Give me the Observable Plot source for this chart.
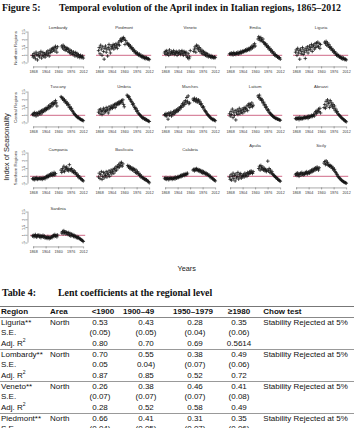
<!DOCTYPE html>
<html><head><meta charset="utf-8">
<script src="https://cdn.jsdelivr.net/npm/d3@7"></script>
<script src="https://cdn.jsdelivr.net/npm/@observablehq/plot@0.6"></script>
<style>
body{margin:0;background:#fff;}
#root{position:relative;width:354px;height:428px;overflow:hidden;font-family:"Liberation Sans",Arial,sans-serif;color:#111;}
.abs{position:absolute;white-space:nowrap;}
.ttl{font-family:"Liberation Serif","Times New Roman",serif;font-weight:bold;font-size:9.9px;line-height:10px;}
.cell{position:absolute;font-size:8px;line-height:10px;white-space:nowrap;}
.hd{font-weight:bold;}
.rule{position:absolute;left:0;width:354px;}
svg{overflow:visible;}
</style></head><body><div id="root"></div>
<script>
// ---------- data (values x100, one per 2 years from 1865; null = no data) ----------
const years = d3.range(1865, 2012, 2);
const xTicks = [1868, 1904, 1940, 1976, 2012];
const yTicks = [0.5, 1, 1.5, 2, 2.5];
const yTickLabels = [".5", "1", "1.5", "2", "2.5"];

const lombardy = [100,88,112,95,78,120,105,70,98,115, 90,108,125,82,100,118,95,110,88,105, 120,100,128,112,95,132,118,140,125,145, 135,150,128,158,142,120,155,null,null,null, null,null,160,148,165,140,155,132,150,138, 145,125,140,118,132,110,128,115,105,122, 108,95,118,100,112,90,105,95,85,100, 92,85,95,82];
const piedmont = [130,150,110,165,140,100,155,125,75,145, 160,120,140,95,150,170,135,115,160,145, 155,170,140,165,150,175,160,145,170,185, 165,195,205,190,210,200,215,205,170,195, null,180,175,165,170,155,160,145,150,135, 140,125,130,115,120,110,115,105,100,108, 95,100,90,95,85,92,80,88,78,85, 80,75,78,72];
const veneto = [115,125,105,130,110,120,100,135,115,108, 125,110,118,130,105,120,112,125,100,118, 110,128,115,105,122,130,112,100,125,118, 108,120,95,85,110,78,90,130,null,null, null,null,125,140,155,120,165,145,160,135, 150,125,140,115,130,110,125,105,118,100, 112,95,108,90,100,95,88,98,85,92, 88,82,90,85];
const emilia = [108,112,105,115,110,102,118,108,112,105, 115,110,120,108,118,112,125,115,120,128, 122,130,125,135,128,140,132,138,145,135, 150,142,158,148,165,155,175,160,null,null, null,205,220,210,195,215,200,190,205,185, 180,170,175,160,165,150,155,140,145,130, 135,120,125,110,115,100,105,95,98,88, 90,82,85,75];
const liguria = [120,135,100,145,115,130,75,140,110,125, 150,105,135,120,80,145,130,155,115,140, 160,135,150,170,125,155,165,140,175,150, 180,160,185,155,175,145,170,null,null,null, null,null,185,175,190,165,180,160,170,150, 155,140,145,130,135,120,125,110,115,100, 105,95,100,88,92,85,80,88,75,82, 78,72,75,70];
const tuscany = [105,112,100,118,108,95,115,110,102,120, 112,125,108,130,118,135,125,140,130,145, 138,150,142,160,148,165,155,175,160,180, 170,185,175,195,180,160,null,null,null,null, null,220,215,205,210,195,200,185,190,175, 180,165,170,150,155,140,145,130,125,115, 110,105,100,95,90,85,88,80,78,75, 72,70,68,65];
const umbria = [120,135,110,140,125,105,130,145,115,135, 125,150,130,140,115,155,135,145,160,150, 145,165,155,170,150,175,165,180,170,185, 175,190,180,195,185,200,170,155,null,null, null,230,225,215,220,205,200,190,185,170, 175,160,150,140,145,125,130,115,110,105, 100,95,90,85,80,85,75,78,70,72, 68,65,62,60];
const marches = [105,98,112,95,108,75,115,100,110,120, 95,115,105,125,110,130,118,135,125,140, 130,148,140,155,150,165,175,160,185,170, 195,180,215,190,225,175,180,null,null,null, null,205,195,210,200,190,205,185,195,200, 180,190,170,175,160,150,155,140,130,125, 120,110,105,100,95,90,85,80,78,72, 75,70,68,65];
const latium = [110,95,125,105,140,85,120,100,130,70, 115,135,105,125,145,110,130,120,140,115, 135,150,125,145,140,160,130,165,175,150, 170,160,180,155,165,null,null,null,null,null, null,225,215,230,205,210,195,200,180,185, 165,170,150,155,140,130,135,120,115,110, 105,100,95,92,88,85,80,82,78,75, 75,72,70,68];
const abruzzi = [80,75,85,78,82,72,88,80,76,84, 78,86,80,90,82,88,85,92,80,95, 88,95,90,100,92,98,105,95,115,125, 110,130,120,140,125,145,115,null,null,null, null,150,170,145,190,160,200,175,185,150, 195,165,180,155,170,145,160,130,140,120, 125,110,105,100,95,90,85,80,78,72, 70,65,62,58];
const campania = [85,80,90,78,88,82,92,80,86,84, 88,82,90,85,80,92,86,90,84,95, 100,92,105,98,110,102,115,108,120,105, 112,125,108,118,null,null,null,null,null,null, null,140,125,150,135,165,130,155,145,160, 140,150,135,175,145,140,150,130,140,125, 135,120,125,110,115,100,105,90,95,85, 85,78,75,70];
const basilicata = [95,120,85,110,130,80,100,125,90,115, 105,130,95,120,110,135,100,125,140,115, 130,145,120,150,135,160,140,165,155,175, 160,185,170,190,165,180,null,null,null,null, null,null,170,160,165,150,160,145,155,140, 150,135,145,125,140,120,130,115,120,105, 110,95,100,90,92,85,80,85,75,78, 72,68,65,58];
const calabria = [88,82,92,80,86,90,78,85,92,84, 88,80,90,85,92,82,95,88,90,98, 92,100,95,105,98,110,102,108,115,105, 112,118,110,120,null,null,null,null,null,null, null,140,145,135,148,140,150,138,145,135, 142,130,138,125,135,120,130,118,125,115, 120,110,115,105,108,98,100,90,92,85, 82,78,75,70];
const apulia = [95,80,110,75,100,120,85,105,70,115, 90,100,125,82,110,95,118,88,105,98, 110,95,120,105,115,100,125,110,118,130, 120,135,125,118,130,null,null,null,null,null, null,null,150,165,140,170,155,145,160,140, 150,135,145,130,140,198,135,150,125,140, 120,130,115,110,105,100,95,92,88,82, 80,75,72,68];
const sicily = [110,118,105,122,112,100,115,120,108,125, 115,108,120,112,125,118,130,115,122,128, 120,135,125,140,130,145,135,150,140,155, 145,160,150,140,155,null,null,null,null,null, null,185,195,175,200,180,190,170,175,165, 170,160,165,150,155,140,145,130,125,115, 110,100,95,90,85,80,75,72,68,65, 62,60,58,55];
const sardinia = [95,100,90,98,105,92,88,100,95,102, 90,98,85,95,92,100,88,95,82,90, 85,80,92,85,78,88,82,90,85,95, 100,92,105,95,100,90,102,null,null,null, null,null,115,125,110,130,118,122,108,120, 115,105,118,100,112,95,108,98,105,92, 100,90,95,85,92,82,88,80,78,75, 72,68,65,60];

const regionNames = ["Lombardy","Piedmont","Veneto","Emilia","Liguria","Tuscany","Umbria","Marches","Latium","Abruzzi","Campania","Basilicata","Calabria","Apulia","Sicily","Sardinia"];
const regionValues = [lombardy,piedmont,veneto,emilia,liguria,tuscany,umbria,marches,latium,abruzzi,campania,basilicata,calabria,apulia,sicily,sardinia];
const rowLabels = ["Northern Regions","Central Regions","Southern Regions"];

const tableHead = ["Region","Area","<1900","1900–49","1950–1979","≥1980","Chow test"];
const tableRows = [
  ["Liguria**","North","0.53","0.43","0.28","0.35","Stability Rejected at 5%"],
  ["S.E.","","(0.05)","(0.05)","(0.04)","(0.06)",""],
  ["Adj. R2","","0.80","0.70","0.69","0.5614",""],
  ["Lombardy**","North","0.70","0.55","0.38","0.49","Stability Rejected at 5%"],
  ["S.E.","","0.05","0.04)","(0.07)","(0.06)",""],
  ["Adj. R2","","0.87","0.85","0.52","0.72",""],
  ["Veneto**","North","0.26","0.38","0.46","0.41","Stability Rejected at 5%"],
  ["S.E.","","(0.07)","(0.07)","(0.07)","(0.08)",""],
  ["Adj. R2","","0.28","0.52","0.58","0.49",""],
  ["Piedmont**","North","0.66","0.41","0.31","0.35","Stability Rejected at 5%"],
  ["S.E.","","(0.04)","(0.05)","(0.07)","(0.06)",""]
];

// ---------- layout ----------
const root = document.getElementById("root");
function addDiv(cls, html, style) {
  const d = document.createElement("div");
  d.className = cls; d.innerHTML = html;
  Object.assign(d.style, style);
  root.appendChild(d); return d;
}
addDiv("abs ttl", "Figure 5:", {left:"2px", top:"3px"});
addDiv("abs ttl", "Temporal evolution of the April index in Italian regions, 1865–2012", {left:"59px", top:"3px"});

const colLeft = c => 20.2 + 65.7 * c;
const rowTop = [29.5, 90.3, 151, 210];
const titleDy = [-4.5, -5.6, -3.4, -3.3];
const W = 66, H = 50, mT = 3, mL = 10, mR = 0.8;

regionValues.forEach((vals, k) => {
  const col = k < 15 ? k % 5 : 0;
  const row = k < 15 ? Math.floor(k / 5) : 3;
  const name = regionNames[k];
  const data = vals.map((v, i) => ({year: years[i], v: v == null ? null : v / 100})).filter(d => d.v != null);
  const tdy = (name === "Apulia" || name === "Sicily") ? -7.7 : titleDy[row];
  const marks = [
    Plot.ruleY([1], {stroke: "#cf6a87", strokeWidth: 1}),
    Plot.dot(data, {x: "year", y: "v", symbol: "plus", r: 1.25, stroke: "#111", strokeWidth: 0.75}),
    Plot.ruleY([0.25], {x1: xTicks[0], x2: xTicks[xTicks.length - 1], stroke: "#555", strokeWidth: 0.5}),
    Plot.axisX({ticks: xTicks, tickFormat: d => String(d), tickSize: 2, tickPadding: 1, fontSize: 3.7, stroke: "#555", strokeWidth: 0.5, fill: "#333", label: null}),
    Plot.text([name], {frameAnchor: "top", dy: tdy, fontSize: 4.2, fill: "#333"})
  ];
  if (col === 0) {
    marks.push(Plot.ruleX([1859], {y1: yTicks[0], y2: yTicks[yTicks.length - 1], dx: -2.5, stroke: "#555", strokeWidth: 0.5}));
    marks.push(Plot.axisY({ticks: yTicks, tickFormat: (d, i) => yTickLabels[i], tickSize: 2, tickPadding: 0.8, fontSize: 3.7, tickRotate: -90, dx: -2.5, stroke: "#555", strokeWidth: 0.5, fill: "#333", label: null}));
  }
  const svg = Plot.plot({
    width: W, height: H, marginTop: mT, marginLeft: mL, marginRight: mR, marginBottom: H - mT - 2.35 * 15.5,
    x: {domain: [1859, 2018], axis: null, label: null},
    y: {domain: [0.25, 2.6], axis: null, label: null},
    style: {background: "transparent", overflow: "visible", fontFamily: "Liberation Sans, Arial, sans-serif"},
    marks
  });
  svg.style.position = "absolute";
  svg.style.left = colLeft(col) + "px";
  svg.style.top = (rowTop[row] - mT) + "px";
  root.appendChild(svg);
});

// annotation overlay
const ov = d3.select(root).append("svg").attr("width", 354).attr("height", 428)
  .style("position", "absolute").style("left", 0).style("top", 0)
  .style("font-family", "Liberation Sans, Arial, sans-serif");
const rowLabelY = [48, 107.5, 168];
rowLabels.forEach((t, i) => {
  ov.append("text").attr("transform", `translate(15.5,${rowLabelY[i]}) rotate(-90)`)
    .attr("text-anchor", "middle").attr("dominant-baseline", "middle")
    .attr("font-size", 4.3).attr("fill", "#333").text(t);
});
ov.append("text").attr("transform", "translate(7,147) rotate(-90)")
  .attr("text-anchor", "middle").attr("dominant-baseline", "middle")
  .attr("font-size", 7.5).attr("fill", "#222").text("Index of Seasonality");
ov.append("text").attr("x", 186.7).attr("y", 269.3)
  .attr("text-anchor", "middle").attr("dominant-baseline", "middle")
  .attr("font-size", 7.3).attr("fill", "#222").text("Years");

// ---------- table ----------
addDiv("abs ttl", "Table 4:", {left:"2px", top:"288px"});
addDiv("abs ttl", "Lent coefficients at the regional level", {left:"58px", top:"288px"});
const headX = [1, 50, 91.7, 123, 173, 228, 263.3];
const valCX = [100, 146, 195, 239];
addDiv("rule", "", {top:"305.5px", height:"1.3px", background:"#777"});
tableHead.forEach((h, i) => addDiv("cell hd", h.replace("<","&lt;"), {left: headX[i] + "px", top: "306.5px"}));
addDiv("rule", "", {top:"316.9px", height:"0.8px", background:"#888"});
const rowH = 10.67, firstRowTop = 317.5;
tableRows.forEach((r, j) => {
  const top = firstRowTop + j * rowH;
  if (j > 0 && j % 3 === 0) addDiv("rule", "", {top: (top - 0.5) + "px", height: "0.8px", background: "#999"});
  const lab = r[0] === "Adj. R2" ? 'Adj. R<sup style="font-size:5px;vertical-align:4px;line-height:0">2</sup>' : r[0];
  addDiv("cell", lab, {left: headX[0] + "px", top: top + "px"});
  addDiv("cell", r[1], {left: headX[1] + "px", top: top + "px"});
  for (let c = 0; c < 4; c++) {
    addDiv("cell", r[2 + c], {left: (valCX[c] - 25) + "px", width: "50px", textAlign: "center", top: top + "px"});
  }
  addDiv("cell", r[6], {left: headX[6] + "px", top: top + "px"});
});
</script></body></html>
